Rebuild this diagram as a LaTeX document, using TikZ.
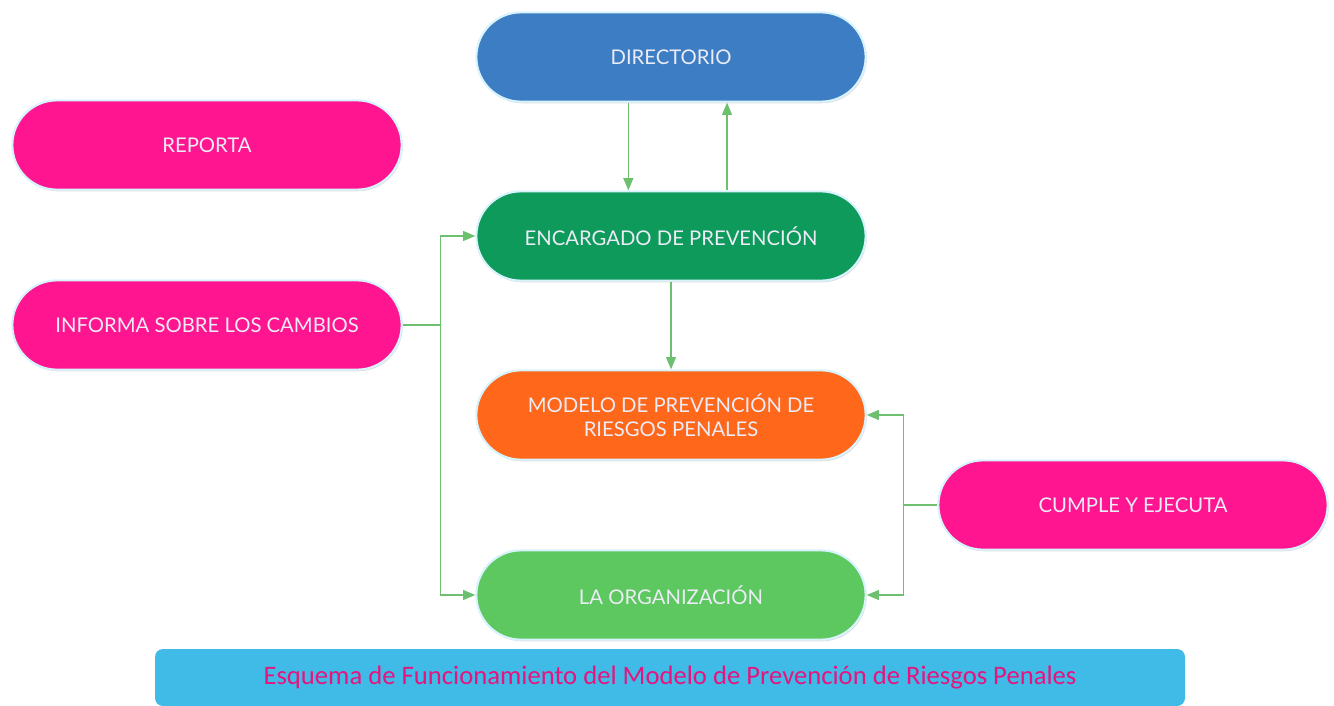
\documentclass[tikz,border=0pt]{standalone}
\usepackage{fontspec}
\newfontfamily\boxfont{Lato}
\newfontfamily\capfont{Carlito}
\usetikzlibrary{arrows}
\usetikzlibrary{shapes.misc}
\usetikzlibrary{shadows}

\definecolor{dirblue}{HTML}{3C7DC4}
\definecolor{encgreen}{HTML}{0D9A5B}
\definecolor{modorange}{HTML}{FF671A}
\definecolor{orggreen}{HTML}{5DC85F}
\definecolor{actpink}{HTML}{FF1590}
\definecolor{capblue}{HTML}{40BAE6}
\definecolor{captext}{HTML}{E6147F}
\definecolor{linkgreen}{HTML}{6CC070}
\definecolor{boxtext}{HTML}{ECECF6}

\tikzset{
  pill/.style={rounded rectangle, draw=white!85!cyan, line width=1.6pt,
    minimum width=292pt, minimum height=67pt, inner sep=0pt,
    text=boxtext, font=\boxfont\fontsize{15.2}{18}\selectfont, align=center,
    drop shadow={shadow xshift=0.8pt, shadow yshift=-1.2pt, fill=gray!60, opacity=.45}},
  link/.style={draw=linkgreen, line width=1.1pt, ->, >=triangle 45}
}

\begin{document}
\begin{tikzpicture}[x=0.75pt, y=-0.75pt]
  \useasboundingbox (0,0) rectangle (1334,706);

  \node[pill, fill=dirblue]   (dir) at (671,57)   {DIRECTORIO};
  \node[pill, fill=actpink]   (rep) at (207,145)  {REPORTA};
  \node[pill, fill=encgreen]  (enc) at (671,236)  {ENCARGADO DE PREVENCIÓN};
  \node[pill, fill=actpink]   (inf) at (207,325)  {INFORMA SOBRE LOS CAMBIOS};
  \node[pill, fill=modorange] (mod) at (671,415)  {MODELO DE PREVENCIÓN DE\\RIESGOS PENALES};
  \node[pill, fill=actpink]   (cum) at (1133,505) {CUMPLE Y EJECUTA};
  \node[pill, fill=orggreen]  (org) at (671,595)  {LA ORGANIZACIÓN};

  % caption bar
  \node[fill=capblue, rounded corners=6pt, minimum width=772.5pt, minimum height=42.75pt,
        inner sep=0pt, text=captext, font=\capfont\fontsize{20}{24}\selectfont]
        (cap) at (670,677.5) {Esquema de Funcionamiento del Modelo de Prevención de Riesgos Penales};

  \draw[link] ([xshift=-32pt]dir.south) -- ([xshift=-32pt]enc.north);
  \draw[link] ([xshift=42pt]enc.north) -- ([xshift=42pt]dir.south);
  \draw[link] (enc.south) -- (mod.north);

  \draw[link, -] (inf.east) -- ++(38,0) coordinate (infj);
  \draw[link] (infj) |- (enc.west);
  \draw[link] (infj) |- (org.west);

  \draw[link, -] (cum.west) -- ++(-34,0) coordinate (cumj);
  \draw[link] (cumj) |- (mod.east);
  \draw[link] (cumj) |- (org.east);
\end{tikzpicture}
\end{document}
